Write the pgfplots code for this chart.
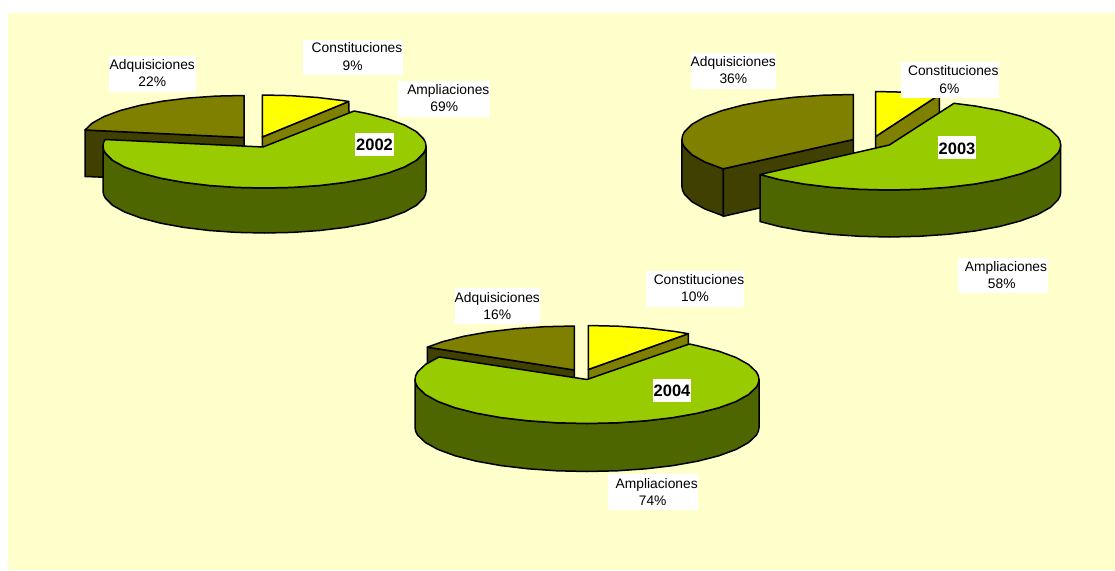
\documentclass[border=0pt]{standalone}
\usepackage{pgfplots}
\pgfplotsset{compat=1.18}
\usepackage{fontspec}
\setmainfont{Liberation Sans}
\definecolor{panel}{HTML}{FFFFCC}
\definecolor{topgreen}{HTML}{99CC00}
\definecolor{sidegreen}{HTML}{4D6600}
\definecolor{topyellow}{HTML}{FFFF00}
\definecolor{sideyellow}{HTML}{808000}
\definecolor{topolive}{HTML}{808000}
\definecolor{sideolive}{HTML}{404000}
% label: box x1,y1,x2,y2; line1 cx, base; line2 cx; text1; text2
\newcommand{\lab}[9]{%
  \addplot[fill=white,draw=none] coordinates {(#1,#2)(#3,#2)(#3,#4)(#1,#4)} --cycle;
  \node[anchor=base,inner sep=0pt,font=\fontsize{13.8}{16}\selectfont] at (axis cs:#5,#6) {#8};
  \node[anchor=base,inner sep=0pt,font=\fontsize{13.8}{16}\selectfont] at (axis cs:#7,#6+17.6) {#9};
}
\newcommand{\yearlab}[7]{%
  \addplot[fill=white,draw=none] coordinates {(#1,#2)(#3,#2)(#3,#4)(#1,#4)} --cycle;
  \node[anchor=base,inner sep=0pt,font=\fontsize{16.5}{18}\selectfont\bfseries] at (axis cs:#5,#6) {#7};
}
\begin{document}
\begin{tikzpicture}
\begin{axis}[
  width=1115pt, height=570pt, scale only axis,
  xmin=0, xmax=1115, ymin=0, ymax=570, y dir=reverse,
  hide axis, clip=true,
  every axis plot/.append style={line width=1.5pt, line join=round}
]
\addplot[fill=white,draw=none] coordinates {(0,0)(1115,0)(1115,570)(0,570)} --cycle;
\addplot[fill=panel,draw=none] coordinates {(8,13)(1115,13)(1115,570)(8,570)} --cycle;

% ---------- 2002 ----------
\addplot[fill=sideolive,draw=black] coordinates {(85,130)(244,137.5)(244,182.5)(85,176.5)} --cycle;
\addplot[fill=topolive,draw=black] coordinates {(244,137.5)(244,95.5)(216,96.1)(188.8,98)(163.2,101.1)(140.2,105.3)(120.3,110.5)(104.1,116.5)(92.2,123.1)(85,130)} --cycle;
\addplot[fill=sideyellow,draw=black] coordinates {(262.3,137)(348.7,101.5)(350,145)(262.3,183)} --cycle;
\addplot[fill=topyellow,draw=black] coordinates {(262.3,137)(262.3,95)(290.3,95.6)(317.5,97.5)(343.1,100.6)(348.7,101.5)} --cycle;
\addplot[fill=sidegreen,draw=black] coordinates {(426,146)(425.4,149.7)(423.5,153.3)(416.3,160.4)(404.4,167)(388.2,173)(368.3,178.2)(345.3,182.4)(319.7,185.5)(292.5,187.4)(264.5,188)(236.5,187.4)(209.3,185.5)(183.7,182.4)(160.7,178.2)(140.8,173)(124.6,167)(112.7,160.4)(105.5,153.3)(103.6,149.7)(103,146)
 (103,191)(103.6,194.7)(105.5,198.3)(112.7,205.4)(124.6,212)(140.8,218)(160.7,223.2)(183.7,227.4)(209.3,230.5)(236.5,232.4)(264.5,233)(292.5,232.4)(319.7,230.5)(345.3,227.4)(368.3,223.2)(388.2,218)(404.4,212)(416.3,205.4)(423.5,198.3)(425.4,194.7)(426,191)} --cycle;
\addplot[fill=topgreen,draw=black] coordinates {(354.1,111)(368.3,113.8)(388.2,119)(404.4,125)(416.3,131.6)(423.5,138.7)(425.4,142.3)(426,146)(425.4,149.7)(423.5,153.3)(416.3,160.4)(404.4,167)(388.2,173)(368.3,178.2)(345.3,182.4)(319.7,185.5)(292.5,187.4)(264.5,188)(236.5,187.4)(209.3,185.5)(183.7,182.4)(160.7,178.2)(140.8,173)(124.6,167)(112.7,160.4)(105.5,153.3)(103.6,149.7)(103,146)(103.6,142.3)(105.2,139.5)(263,147)} --cycle;

% ---------- 2003 ----------
\addplot[fill=sideolive,draw=black] coordinates {(681.9,139.5)(682.6,143.4)(684.5,147.3)(692.2,154.9)(704.9,162)(722,168.4)(723.3,168.8)(723.3,216.3)(722,215.4)(704.9,209)(692.2,201.9)(684.5,194.3)(682.6,190.4)(681.9,186.5)} --cycle;
\addplot[fill=sideolive,draw=black] coordinates {(723.3,168.8)(853.3,139.5)(853.3,186.5)(723.3,216.3)} --cycle;
\addplot[fill=topolive,draw=black] coordinates {(853.3,139.5)(853.3,94.5)(823.5,95.2)(794.7,97.2)(767.6,100.5)(743.1,105)(722,110.6)(704.9,117)(692.2,124.1)(684.5,131.7)(682.6,135.6)(681.9,139.5)(682.6,143.4)(684.5,147.3)(692.2,154.9)(704.9,162)(722,168.4)(723.3,168.8)} --cycle;
\addplot[fill=sideyellow,draw=black] coordinates {(875.7,136.5)(939.3,94.8)(939.3,141.8)(875.7,183.5)} --cycle;
\addplot[fill=topyellow,draw=black] coordinates {(875.7,136.5)(875.7,91.5)(905.5,92.2)(934.3,94.2)(939.3,94.8)} --cycle;
\addplot[fill=sidegreen,draw=black] coordinates {(1060.7,145)(1060,148.9)(1058.1,152.8)(1050.4,160.4)(1037.7,167.5)(1020.6,173.9)(999.5,179.5)(975,184)(947.9,187.3)(919.1,189.3)(889.3,190)(859.5,189.3)(830.7,187.3)(803.6,184)(779.1,179.5)(760,174.5)
 (760,221.5)(779.1,226.5)(803.6,231)(830.7,234.3)(859.5,236.3)(889.3,237)(919.1,236.3)(947.9,234.3)(975,231)(999.5,226.5)(1020.6,220.9)(1037.7,214.5)(1050.4,207.4)(1058.1,199.8)(1060,195.9)(1060.7,192)} --cycle;
\addplot[fill=topgreen,draw=black] coordinates {(954,103.3)(975,106)(999.5,110.5)(1020.6,116.1)(1037.7,122.5)(1050.4,129.6)(1058.1,137.2)(1060,141.1)(1060.7,145)(1060,148.9)(1058.1,152.8)(1050.4,160.4)(1037.7,167.5)(1020.6,173.9)(999.5,179.5)(975,184)(947.9,187.3)(919.1,189.3)(889.3,190)(859.5,189.3)(830.7,187.3)(803.6,184)(779.1,179.5)(760,174.5)(889.3,145)} --cycle;

% ---------- 2004 ----------
\addplot[fill=sideolive,draw=black] coordinates {(427.3,347.2)(574.3,370)(574.3,418)(427.3,395)} --cycle;
\addplot[fill=topolive,draw=black] coordinates {(574.3,370)(574.3,326)(544.4,326.7)(515.5,328.7)(488.3,331.9)(463.7,336.3)(442.5,341.7)(427.3,347.2)} --cycle;
\addplot[fill=sideyellow,draw=black] coordinates {(588.3,369.5)(688.3,333.7)(688.3,381.7)(588.3,417.5)} --cycle;
\addplot[fill=topyellow,draw=black] coordinates {(588.3,369.5)(588.3,325.5)(618.2,326.2)(647.1,328.2)(674.3,331.4)(688.3,333.7)} --cycle;
\addplot[fill=sidegreen,draw=black] coordinates {(759,379.5)(758.3,383.3)(756.4,387.1)(748.6,394.5)(736,401.5)(718.8,407.8)(697.6,413.2)(673,417.6)(645.8,420.8)(616.9,422.8)(587,423.5)(557.1,422.8)(528.2,420.8)(501,417.6)(476.4,413.2)(455.2,407.8)(438,401.5)(425.4,394.5)(417.6,387.1)(415.7,383.3)(415,379.5)
 (415,427.5)(415.7,431.3)(417.6,435.1)(425.4,442.5)(438,449.5)(455.2,455.8)(476.4,461.2)(501,465.6)(528.2,468.8)(557.1,470.8)(587,471.5)(616.9,470.8)(645.8,468.8)(673,465.6)(697.6,461.2)(718.8,455.8)(736,449.5)(748.6,442.5)(756.4,435.1)(758.3,431.3)(759,427.5)} --cycle;
\addplot[fill=topgreen,draw=black] coordinates {(689.3,344)(697.6,345.8)(718.8,351.2)(736,357.5)(748.6,364.5)(756.4,371.9)(758.3,375.7)(759,379.5)(758.3,383.3)(756.4,387.1)(748.6,394.5)(736,401.5)(718.8,407.8)(697.6,413.2)(673,417.6)(645.8,420.8)(616.9,422.8)(587,423.5)(557.1,422.8)(528.2,420.8)(501,417.6)(476.4,413.2)(455.2,407.8)(438,401.5)(425.4,394.5)(417.6,387.1)(415.7,383.3)(415,379.5)(415.7,375.7)(417.6,371.9)(425.4,364.5)(438,357.5)(439.3,357)(587,379.5)} --cycle;

% ---------- labels ----------
\lab{303.3}{40}{402.7}{75.3}{357}{52.7}{352.7}{Constituciones}{9\%}
\lab{109.3}{56}{196}{91.7}{152.3}{69.3}{152.3}{Adquisiciones}{22\%}
\lab{398}{81}{490}{116.7}{448.3}{94}{444.3}{Ampliaciones}{69\%}
\yearlab{355}{133.3}{394}{156}{374.5}{150}{2002}
\lab{691.3}{53.3}{776}{89}{733.3}{66.3}{733.3}{Adquisiciones}{36\%}
\lab{901}{62.3}{999}{97.7}{953.3}{75.8}{949.3}{Constituciones}{6\%}
\lab{957.7}{258.3}{1047.7}{293.3}{1006}{271}{1001.7}{Ampliaciones}{58\%}
\yearlab{938}{136}{976}{159}{957}{154}{2003}
\lab{646}{271}{744}{306.7}{699}{284}{695}{Constituciones}{10\%}
\lab{455}{288.3}{540}{324}{497.3}{302.3}{497.3}{Adquisiciones}{16\%}
\lab{608.3}{474.3}{697.7}{510}{656.7}{488}{652.7}{Ampliaciones}{74\%}
\yearlab{652.7}{379}{691}{402}{672}{396}{2004}
\end{axis}
\end{tikzpicture}
\end{document}
